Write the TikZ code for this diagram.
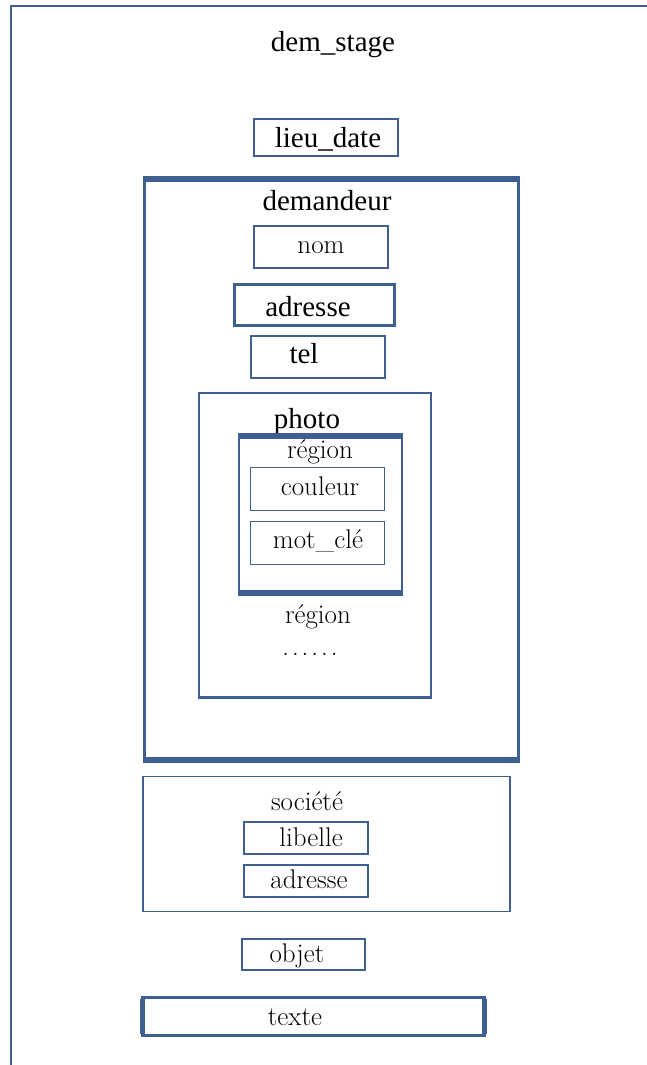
\documentclass[tikz,border=0pt]{standalone}
\usepackage{fontspec}
\newfontfamily\tnr{Liberation Serif}
\definecolor{bl}{RGB}{62,96,145}
\begin{document}
\begin{tikzpicture}[x=1pt,y=-1pt,
  bx/.style={draw=bl, rectangle, outer sep=0pt, inner sep=0pt, line width=1.6pt},
  tr/.style={font=\tnr\fontsize{29}{34}\selectfont, inner sep=0pt, anchor=base},
  lm/.style={font=\fontsize{27}{32}\selectfont, inner sep=0pt, anchor=base},
  thk/.style={draw=bl, line width=6pt}]
\useasboundingbox (0,0) rectangle (647,1065);
% outer frame
\coordinate (fbl) at (11,1065);
\coordinate (ftl) at (11,6);
\coordinate (ftr) at (647,6);
\draw[bl, line width=2pt] (fbl) -- (ftl) -- (ftr);

\node[tr] (tstage) at (333,52) {dem\_stage};

\node[bx, line width=2.5pt, minimum width=144pt, minimum height=37pt] (lieu) at (326,137.5) {};
\node[tr] (tlieu) at (328,147) {lieu\_date};

% demandeur
\node[bx, line width=2.5pt, minimum width=374pt, minimum height=581.5pt] (dem) at (331.5,469.25) {};
\draw[thk] ([xshift=-1.25pt]dem.north west) -- ([xshift=1.25pt]dem.north east);
\draw[thk] ([xshift=-1.25pt]dem.south west) -- ([xshift=1.25pt]dem.south east);
\node[tr] (tdem) at (327,210) {demandeur};

\node[bx, line width=1.5pt, minimum width=134pt, minimum height=42pt] (nom) at (321,247) {};
\node[lm] (tnom) at (321,253) {nom};

\node[bx, line width=3pt, minimum width=160pt, minimum height=41pt] (adr1) at (314,304.5) {};
\node[tr] (tadr1) at (308,316) {adresse};

\node[bx, line width=1.8pt, minimum width=134pt, minimum height=42pt] (tel) at (318,357) {};
\node[tr] (ttel) at (304,363) {tel};

% photo
\node[bx, line width=2pt, minimum width=232pt, minimum height=304pt] (photo) at (315,545) {};
\draw[draw=bl, line width=3pt] ([xshift=-1pt]photo.south west) -- ([xshift=1pt]photo.south east);
\node[tr] (tphoto) at (307,428) {photo};

% region
\node[bx, line width=2pt, minimum width=163pt, minimum height=157pt] (reg) at (320,514.5) {};
\draw[thk] ([xshift=-1pt]reg.north west) -- ([xshift=1pt]reg.north east);
\draw[thk] ([xshift=-1pt]reg.south west) -- ([xshift=1pt]reg.south east);
\node[lm] (treg) at (320,458) {région};

\node[bx, minimum width=134pt, minimum height=43pt] (coul) at (317.5,489) {};
\node[lm] (tcoul) at (320,495) {couleur};

\node[bx, minimum width=134pt, minimum height=43pt] (mot) at (317.5,543) {};
\node[lm] (tmot) at (318,548) {mot\_clé};

\node[lm] (treg2) at (318,623) {région};
\node[lm] (tdots) at (310,655) {.\kern3pt.\kern3pt.\kern3pt.\kern3pt.\kern3pt.};

% societe
\node[bx, minimum width=367pt, minimum height=135pt] (soc) at (326.5,844) {};
\node[lm] (tsoc) at (307,810) {société};

\node[bx, line width=1.8pt, minimum width=124pt, minimum height=32pt] (lib) at (306,838) {};
\node[lm] (tlib) at (311,846) {libelle};

\node[bx, line width=1.8pt, minimum width=124pt, minimum height=32pt] (adr2) at (306,881) {};
\node[lm] (tadr2) at (309,888) {adresse};

\node[bx, line width=1.8pt, minimum width=123pt, minimum height=31pt] (obj) at (303.5,954.5) {};
\node[lm] (tobj) at (297,962) {objet};

\node[bx, line width=3pt, minimum width=342pt, minimum height=38pt] (texte) at (313.5,1016.5) {};
\draw[draw=bl, line width=5pt] ([yshift=-1.5pt]texte.north west) -- ([yshift=1.5pt]texte.south west);
\draw[draw=bl, line width=5pt] ([yshift=-1.5pt]texte.north east) -- ([yshift=1.5pt]texte.south east);
\node[lm] (ttexte) at (295,1025) {texte};
\end{tikzpicture}
\end{document}
